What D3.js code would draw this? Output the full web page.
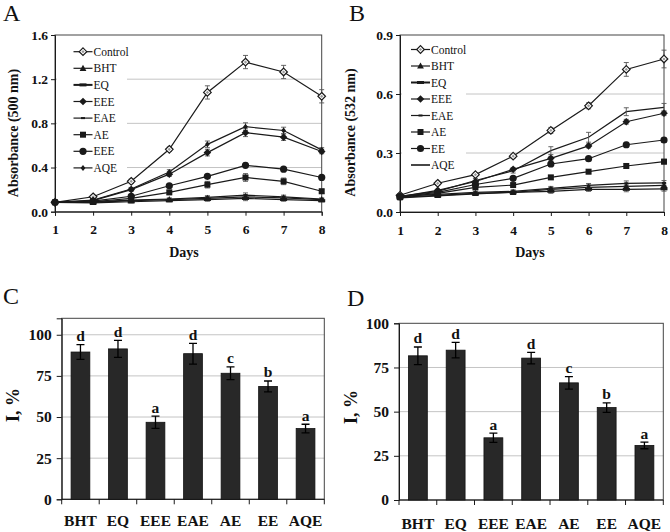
<!DOCTYPE html>
<html>
<head>
<meta charset="utf-8">
<script src="https://cdn.jsdelivr.net/npm/d3@7"></script>
<style>
  html, body { margin: 0; padding: 0; background: #fff; }
  svg { display: block; }
  text { font-family: "Liberation Serif", "Times New Roman", serif; fill: #111; }
</style>
</head>
<body>
<svg id="chart" width="670" height="532"></svg>
<script>
// ---------------- DATA ----------------
const days = [1, 2, 3, 4, 5, 6, 7, 8];
const lineSeriesNames = ["Control", "BHT", "EQ", "EEE", "EAE", "AE", "EE", "AQE"];
const legendLabelsA = ["Control", "BHT", "EQ", "EEE", "EAE", "AE", "EEE", "AQE"];
const legendLabelsB = ["Control", "BHT", "EQ", "EEE", "EAE", "AE", "EE", "AQE"];

// Panel A – Absorbance (500 nm)
const aControl = [0.085, 0.135, 0.275, 0.565, 1.08, 1.355, 1.265, 1.045];
const aBHT     = [0.085, 0.085, 0.10, 0.11, 0.12, 0.135, 0.125, 0.11];
const aEQ      = [0.085, 0.08, 0.09, 0.10, 0.11, 0.12, 0.11, 0.10];
const aEEE     = [0.085, 0.10, 0.20, 0.34, 0.535, 0.715, 0.675, 0.545];
const aEAE     = [0.085, 0.09, 0.105, 0.115, 0.13, 0.15, 0.135, 0.115];
const aAE      = [0.085, 0.09, 0.12, 0.175, 0.245, 0.31, 0.275, 0.185];
const aEE      = [0.085, 0.095, 0.14, 0.235, 0.32, 0.42, 0.385, 0.31];
const aAQE     = [0.085, 0.105, 0.205, 0.36, 0.61, 0.77, 0.735, 0.56];
const aErrControl = [0.01, 0.015, 0.02, 0.02, 0.06, 0.06, 0.06, 0.06];
const aErrSmall   = [0.005, 0.005, 0.01, 0.01, 0.015, 0.02, 0.015, 0.01];
const aErrMid     = [0.005, 0.01, 0.015, 0.02, 0.03, 0.035, 0.03, 0.02];
const aYTicks = [0.0, 0.4, 0.8, 1.2, 1.6];

// Panel B – Absorbance (532 nm)
const bControl = [0.085, 0.146, 0.19, 0.284, 0.415, 0.54, 0.725, 0.778];
const bBHT     = [0.075, 0.085, 0.095, 0.10, 0.115, 0.125, 0.13, 0.135];
const bEQ      = [0.072, 0.082, 0.092, 0.10, 0.105, 0.115, 0.115, 0.118];
const bEEE     = [0.078, 0.11, 0.155, 0.217, 0.273, 0.336, 0.459, 0.502];
const bEAE     = [0.08, 0.09, 0.10, 0.105, 0.12, 0.135, 0.146, 0.148];
const bAE      = [0.075, 0.095, 0.125, 0.137, 0.176, 0.205, 0.234, 0.256];
const bEE      = [0.078, 0.10, 0.14, 0.171, 0.244, 0.271, 0.342, 0.366];
const bAQE     = [0.08, 0.105, 0.16, 0.21, 0.312, 0.38, 0.51, 0.532];
const bErrControl = [0.008, 0.01, 0.01, 0.01, 0.015, 0.015, 0.035, 0.045];
const bErrSmall   = [0.005, 0.005, 0.005, 0.008, 0.01, 0.01, 0.012, 0.012];
const bErrMid     = [0.005, 0.008, 0.01, 0.012, 0.02, 0.025, 0.02, 0.02];
const bYTicks = [0.0, 0.3, 0.6, 0.9];

// Panels C & D – inhibition, %
const barCategories = ["BHT", "EQ", "EEE", "EAE", "AE", "EE", "AQE"];
const cValues  = [89.5, 91.4, 46.8, 88.5, 76.6, 68.6, 43.0];
const cErrors  = [4.5, 5.2, 3.7, 6.3, 3.9, 3.3, 2.6];
const cLetters = ["d", "d", "a", "d", "c", "b", "a"];
const dValues  = [81.6, 84.8, 35.2, 80.3, 66.3, 52.3, 30.9];
const dErrors  = [5.0, 4.4, 2.6, 3.3, 3.5, 2.7, 1.9];
const dLetters = ["d", "d", "a", "d", "c", "b", "a"];
const barYTicks = [0, 25, 50, 75, 100];

// ---------------- DRAWING ----------------
const svg = d3.select("#chart");
const ink = "#1a1a1a";
const gridColor = "#c4c4c4";
const serif = '"Liberation Serif", "Times New Roman", serif';

function drawMarker(g, type, x, y) {
  const s = g.append("g").attr("transform", `translate(${x},${y})`);
  switch (type) {
    case "openDiamond":
      s.append("path").attr("d", "M0,-3.8L3.8,0L0,3.8L-3.8,0Z")
        .attr("fill", "#fff").attr("stroke", ink).attr("stroke-width", 1.2);
      s.append("path").attr("d", "M0,-1.6L1.6,0L0,1.6L-1.6,0Z")
        .attr("fill", "#999");
      break;
    case "triangle":
      s.append("path").attr("d", "M0,-3.6L3.4,2.6L-3.4,2.6Z").attr("fill", ink);
      break;
    case "dash":
      s.append("rect").attr("x", -3.5).attr("y", -1.5).attr("width", 7).attr("height", 3).attr("fill", ink);
      break;
    case "diamond":
      s.append("path").attr("d", "M0,-3.8L3.8,0L0,3.8L-3.8,0Z").attr("fill", ink);
      break;
    case "smallDash":
      s.append("rect").attr("x", -2).attr("y", -1).attr("width", 4).attr("height", 2).attr("fill", ink);
      break;
    case "square":
      s.append("rect").attr("x", -3).attr("y", -3).attr("width", 6).attr("height", 6).attr("fill", ink);
      break;
    case "circle":
      s.append("circle").attr("r", 3.6).attr("fill", ink);
      break;
    case "smallDiamond":
      s.append("path").attr("d", "M0,-3L2.4,0L0,3L-2.4,0Z").attr("fill", ink);
      break;
    default:
      break;
  }
}

function linePanel(opt) {
  const g = svg.append("g");
  const x = d3.scaleLinear().domain([1, 8]).range([opt.left, opt.right]);
  const y = d3.scaleLinear().domain([0, opt.yMax]).range([opt.bottom, opt.top]);

  // gridlines
  g.append("g").selectAll("line").data(opt.yTicks.filter(t => t > 0 && t < opt.yMax))
    .join("line")
    .attr("x1", opt.left).attr("x2", opt.right)
    .attr("y1", d => y(d)).attr("y2", d => y(d))
    .attr("stroke", gridColor).attr("stroke-width", 1);

  // frame (top/right)
  g.append("rect").attr("x", opt.left).attr("y", opt.top)
    .attr("width", opt.right - opt.left).attr("height", opt.bottom - opt.top)
    .attr("fill", "none").attr("stroke", "#444").attr("stroke-width", 1);

  // legend background (covers gridlines)
  g.append("rect").attr("x", opt.left + 2).attr("y", opt.legendTop - 8)
    .attr("width", opt.legendBoxW).attr("height", opt.legendStep * 8 + 2)
    .attr("fill", "#fff");

  // axes
  const yAxis = d3.axisLeft(y).tickValues(opt.yTicks).tickFormat(d3.format(".1f")).tickSize(4).tickPadding(3);
  const ya = g.append("g").attr("transform", `translate(${opt.left},0)`).call(yAxis);
  const xAxis = d3.axisBottom(x).tickValues(days).tickFormat(d3.format("d")).tickSize(4).tickPadding(9);
  const xa = g.append("g").attr("transform", `translate(0,${opt.bottom})`).call(xAxis);
  [ya, xa].forEach(a => {
    a.select(".domain").attr("stroke", ink);
    a.selectAll(".tick line").attr("stroke", ink);
    a.selectAll("text").attr("font-family", serif).attr("font-weight", "bold")
      .attr("font-size", 13.5).attr("fill", ink);
  });

  // series
  const lineGen = d3.line().x((d, i) => x(days[i])).y(d => y(d));
  opt.series.forEach(s => {
    g.append("path").datum(s.values).attr("d", lineGen)
      .attr("fill", "none").attr("stroke", ink).attr("stroke-width", 1.2);
  });
  // error bars
  opt.series.forEach(s => {
    s.values.forEach((v, i) => {
      const e = s.err[i];
      if (!e) return;
      const cx = x(days[i]);
      g.append("path")
        .attr("d", `M${cx},${y(v - e)}V${y(v + e)}M${cx - 2.5},${y(v + e)}H${cx + 2.5}M${cx - 2.5},${y(v - e)}H${cx + 2.5}`)
        .attr("fill", "none").attr("stroke", "#555").attr("stroke-width", 0.9);
    });
  });
  // markers (draw from lowest to top)
  opt.series.forEach(s => {
    s.values.forEach((v, i) => drawMarker(g, s.marker, x(days[i]), y(v)));
  });

  // legend
  opt.series.forEach((s, i) => {
    const ly = opt.legendTop + i * opt.legendStep;
    g.append("line").attr("x1", opt.legendX).attr("x2", opt.legendX + 19)
      .attr("y1", ly).attr("y2", ly).attr("stroke", ink).attr("stroke-width", s.legendLineW || 1.2);
    drawMarker(g, s.marker, opt.legendX + 9.5, ly);
    g.append("text").attr("x", opt.legendX + 20).attr("y", ly).attr("dy", "0.35em")
      .attr("font-size", 11.5).text(opt.legendLabels[i]);
  });

  // titles
  g.append("text").attr("transform", `translate(${opt.yTitleX},${opt.yTitleY}) rotate(-90)`)
    .attr("dy", "0.35em").attr("text-anchor", "middle").attr("font-weight", "bold")
    .attr("font-size", 14).text(opt.yTitle);
  g.append("text").attr("x", opt.xTitleX).attr("y", opt.bottom + 45)
    .attr("text-anchor", "middle").attr("font-weight", "bold").attr("font-size", 14).text("Days");
  g.append("text").attr("x", opt.letterX).attr("y", 20.5).attr("font-size", 24).text(opt.letter);
}

function barPanel(opt) {
  const g = svg.append("g");
  const x = d3.scaleBand().domain(barCategories).range([opt.left, opt.right])
    .paddingInner(0.5).paddingOuter(0.25);
  const y = d3.scaleLinear().domain([0, opt.yMax]).range([opt.bottom, opt.top]);

  g.append("g").selectAll("line").data(barYTicks.filter(t => t > 0 && t < opt.yMax))
    .join("line")
    .attr("x1", opt.left).attr("x2", opt.right)
    .attr("y1", d => y(d)).attr("y2", d => y(d))
    .attr("stroke", gridColor).attr("stroke-width", 1);

  g.append("rect").attr("x", opt.left).attr("y", opt.top)
    .attr("width", opt.right - opt.left).attr("height", opt.bottom - opt.top)
    .attr("fill", "none").attr("stroke", "#444").attr("stroke-width", 1);

  const yAxis = d3.axisLeft(y).tickValues(barYTicks).tickFormat(d3.format("d")).tickSize(5).tickPadding(5);
  const ya = g.append("g").attr("transform", `translate(${opt.left},0)`).call(yAxis);
  ya.select(".domain").attr("stroke", ink);
  ya.selectAll(".tick line").attr("stroke", ink);
  ya.selectAll("text").attr("font-family", serif).attr("font-weight", "bold")
    .attr("font-size", 15.5).attr("fill", ink);

  // x axis line + boundary ticks
  g.append("line").attr("x1", opt.left).attr("x2", opt.right)
    .attr("y1", opt.bottom).attr("y2", opt.bottom).attr("stroke", ink);
  const step = x.step();
  const bounds = d3.range(barCategories.length + 1).map(i => opt.left + i * step);
  g.append("g").selectAll("line").data(bounds).join("line")
    .attr("x1", d => d).attr("x2", d => d)
    .attr("y1", opt.bottom).attr("y2", opt.bottom + 5).attr("stroke", ink);
  g.append("g").selectAll("text").data(barCategories).join("text")
    .attr("x", d => x(d) + x.bandwidth() / 2).attr("y", opt.labelY)
    .attr("text-anchor", "middle").attr("font-weight", "bold").attr("font-size", 15.5)
    .text(d => d);

  // bars
  g.append("g").selectAll("rect").data(barCategories).join("rect")
    .attr("x", d => x(d)).attr("width", x.bandwidth())
    .attr("y", (d, i) => y(opt.values[i]))
    .attr("height", (d, i) => opt.bottom - y(opt.values[i]))
    .attr("fill", "#282828").attr("stroke", "#111").attr("stroke-width", 0.8);

  // error bars
  barCategories.forEach((c, i) => {
    const cx = x(c) + x.bandwidth() / 2;
    const v = opt.values[i], e = opt.errors[i];
    g.append("path")
      .attr("d", `M${cx},${y(v - e)}V${y(v + e)}M${cx - 4},${y(v + e)}H${cx + 4}M${cx - 4},${y(v - e)}H${cx + 4}`)
      .attr("fill", "none").attr("stroke", "#000").attr("stroke-width", 1.3);
    g.append("text").attr("x", cx).attr("y", y(v + e) - 3.5)
      .attr("text-anchor", "middle").attr("font-weight", "bold").attr("font-size", 15.5)
      .text(opt.letters[i]);
  });

  g.append("text").attr("transform", `translate(${opt.yTitleX},${opt.yTitleY}) rotate(-90)`)
    .attr("dy", "0.35em").attr("text-anchor", "middle").attr("font-weight", "bold")
    .attr("font-size", 18).text("I, %");
  g.append("text").attr("x", opt.letterX).attr("y", opt.letterY).attr("font-size", 24).text(opt.letter);
}

const markersA = ["openDiamond", "triangle", "dash", "diamond", "smallDash", "square", "circle", "smallDiamond"];
const markersB = ["openDiamond", "triangle", "dash", "diamond", "smallDash", "square", "circle", "none"];

const aVals = [aControl, aBHT, aEQ, aEEE, aEAE, aAE, aEE, aAQE];
const aErrs = [aErrControl, aErrSmall, aErrSmall, aErrMid, aErrSmall, aErrMid, aErrSmall, aErrMid];
const bVals = [bControl, bBHT, bEQ, bEEE, bEAE, bAE, bEE, bAQE];
const bErrs = [bErrControl, bErrSmall, bErrSmall, bErrSmall, bErrSmall, bErrSmall, bErrSmall, bErrMid];

linePanel({
  left: 55, right: 321.7, top: 35, bottom: 211.7, yMax: 1.6, yTicks: aYTicks,
  series: lineSeriesNames.map((n, i) => ({ name: n, values: aVals[i], err: aErrs[i], marker: markersA[i],
    legendLineW: n === "EQ" ? 2 : 1.2 })),
  legendLabels: legendLabelsA, legendX: 73.5, legendTop: 51.7, legendStep: 16.6, legendBoxW: 70,
  yTitle: "Absorbance (500 nm)", yTitleX: 13.5, yTitleY: 133, xTitleX: 184, letter: "A", letterX: 3
});

linePanel({
  left: 400, right: 664, top: 35, bottom: 212, yMax: 0.9, yTicks: bYTicks,
  series: lineSeriesNames.map((n, i) => ({ name: n, values: bVals[i], err: bErrs[i], marker: markersB[i],
    legendLineW: n === "EQ" ? 2 : (n === "AQE" ? 1.6 : 1.2) })),
  legendLabels: legendLabelsB, legendX: 411, legendTop: 49.5, legendStep: 16.5, legendBoxW: 64,
  yTitle: "Absorbance (532 nm)", yTitleX: 350, yTitleY: 132.5, xTitleX: 530, letter: "B", letterX: 349
});

barPanel({
  left: 61.7, right: 324.3, top: 318.3, bottom: 499.3, yMax: 110,
  values: cValues, errors: cErrors, letters: cLetters, labelY: 525.5,
  yTitleX: 13, yTitleY: 405, letter: "C", letterX: 3, letterY: 303.5
});

barPanel({
  left: 399, right: 663.3, top: 323.3, bottom: 500, yMax: 100,
  values: dValues, errors: dErrors, letters: dLetters, labelY: 528.5,
  yTitleX: 351, yTitleY: 407, letter: "D", letterX: 347, letterY: 305.5
});
</script>
</body>
</html>
